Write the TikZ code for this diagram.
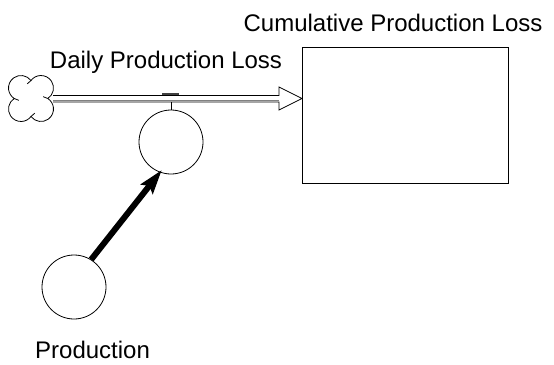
\documentclass[tikz,border=0pt]{standalone}
\usepackage{fontspec}
\setmainfont{Liberation Sans}
\usetikzlibrary{arrows.meta,calc}
\begin{document}
\begin{tikzpicture}[x=1pt,y=-1pt,
  lbl/.style={font=\fontsize{24}{28}\selectfont, inner sep=0pt, anchor=base},
  auxv/.style={circle, draw, minimum size=64pt, inner sep=0pt, line width=0.8pt},
  stockbox/.style={draw, line width=0.8pt},
  pipeline/.style={line width=0.8pt},
  infl/.style={line width=6pt, -{Stealth[length=24pt,width=15pt,inset=4pt]}}]
\useasboundingbox (0,0) rectangle (554,364);
% stock
\node[stockbox, minimum width=206pt, minimum height=136pt, anchor=north west] (stock) at (302,47) {};
\node[lbl] (stocklbl) at (393,31) {Cumulative Production Loss};
% cloud (drawn in y-up coordinates)
\coordinate (cloudc) at (31,98.5);
\begin{scope}[shift={(cloudc)}, x=1pt, y=1pt, line width=0.8pt]
  \draw (16.78,0) arc[start angle=-57.1, end angle=143.1, radius=12.5]
        arc[start angle=36.9, end angle=237.1, radius=12.5]
        arc[start angle=122.9, end angle=323.1, radius=12.5]
        arc[start angle=216.9, end angle=417.1, radius=12.5];
  % inner curls
  \draw (16.78,0) arc[start angle=57.1, end angle=80, radius=12.5];
  \draw (0,18) arc[start angle=-36.9, end angle=-60, radius=12.5];
  \draw (-16.78,0) arc[start angle=237.1, end angle=260, radius=12.5];
  \draw (0,-18) arc[start angle=143.1, end angle=120, radius=12.5];
\end{scope}
% pipe
\coordinate (p1) at (53,95.5);
\coordinate (p2) at (53,102);
\coordinate (h1) at (279,95.5);
\coordinate (h2) at (279,102);
\draw[pipeline] (p1) -- (h1) -- (279,87) -- (stock.west |- 0,98.5) -- (279,110) -- (h2) -- (p2);
\draw[gray, line width=1.5pt] (53,100.6) -- (279,100.6);
% valve
\coordinate (v) at (171,102);
\draw[line width=1.6pt, black!75] (162,94) -- (179,94);
% aux
\node[auxv] (dpl) at (171,142) {};
\draw[pipeline] (v) -- (dpl.north);
\node[lbl] (dpllbl) at (166,68) {Daily Production Loss};
% production
\node[auxv] (prod) at (74,287) {};
\node[lbl, anchor=base west] (prodlbl) at (35,358) {Production};
% link
\draw[infl, shorten >=-3pt] (prod.58) -- (dpl.250);
\end{tikzpicture}
\end{document}
